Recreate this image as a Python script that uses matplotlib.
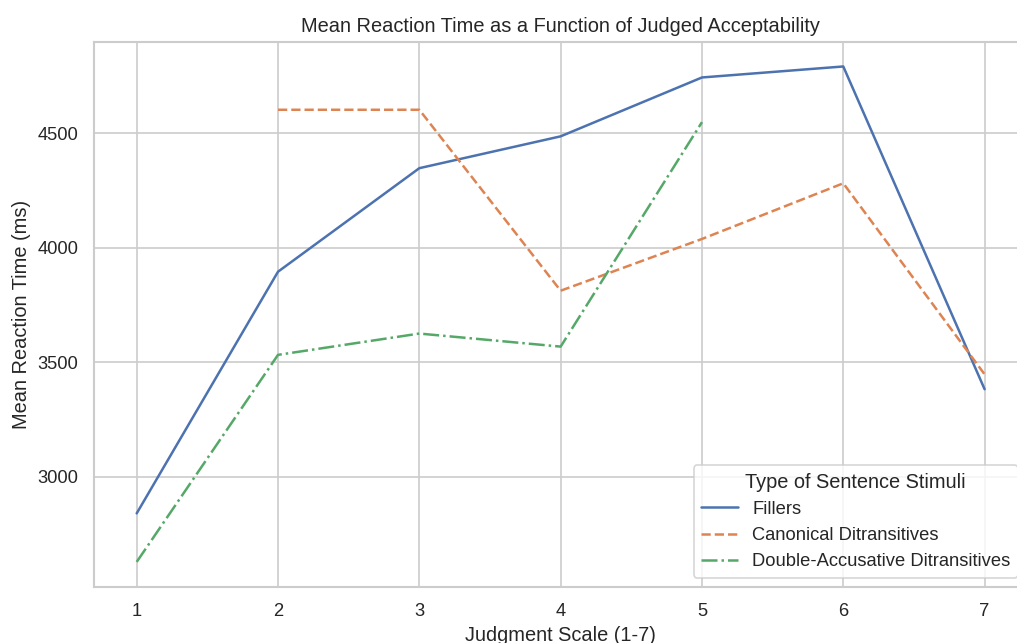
import numpy as np
import matplotlib
matplotlib.use("Agg")
import matplotlib.pyplot as plt
import seaborn as sns

judgments = [1, 2, 3, 4, 5, 6, 7]
fillers = [2840, 3895, 4347, 4486, 4743, 4791, 3382]
canonical = [np.nan, 4602, 4602, 3812, 4038, 4281, 3447]
double_acc = [2628, 3532, 3625, 3568, 4548, np.nan, np.nan]
series_names = ["Fillers", "Canonical Ditransitives", "Double-Accusative Ditransitives"]

sns.set_theme(style="whitegrid", context="notebook", palette="deep")
plt.rcParams['font.family'] = ['Liberation Sans', 'DejaVu Sans']

DPI = 120
fig = plt.figure(figsize=(1017 / DPI, 643 / DPI), dpi=DPI)
ax = fig.add_axes([94.3/1017, (643-586.7)/643, (1027-94.3)/1017, (586.7-41.7)/643])

pal = sns.color_palette("deep")
styles = ["-", "--", "-."]
for vals, name, c, ls in zip([fillers, canonical, double_acc], series_names, pal, styles):
    ax.plot(judgments, vals, color=c, linestyle=ls, label=name)

ax.set_xticks(judgments)
ax.set_yticks([3000, 3500, 4000, 4500])
ax.set_title("Mean Reaction Time as a Function of Judged Acceptability")
ax.set_xlabel("Judgment Scale (1-7)")
ax.set_ylabel("Mean Reaction Time (ms)")
ax.legend(title="Type of Sentence Stimuli", loc="lower right")

fig.savefig("out.png", dpi=DPI)
